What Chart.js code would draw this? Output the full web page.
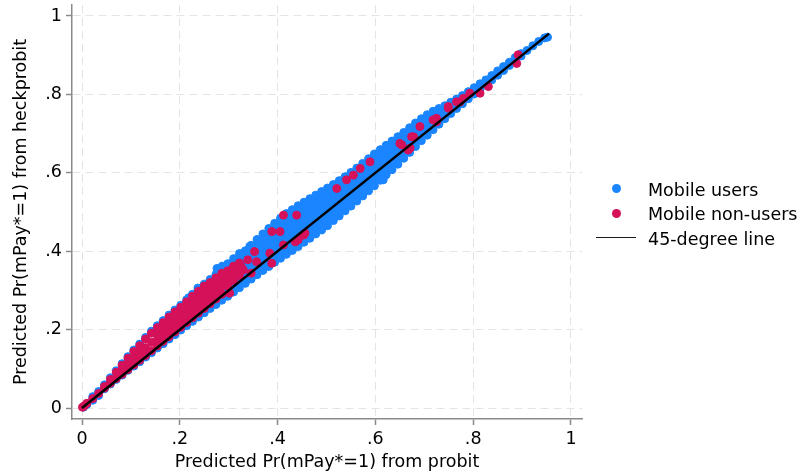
<!DOCTYPE html>
<html lang="en">
<head>
<meta charset="UTF-8">
<title>Predicted Pr(mPay*=1): probit vs heckprobit</title>
<script src="https://cdn.jsdelivr.net/npm/chart.js"></script>
<style>
  body { margin: 0; background: #fff; }
  #wrap { position: relative; width: 799px; height: 473px; font-family: 'DejaVu Sans', sans-serif; }
  .dot { position: absolute; left: 612px; width: 9px; height: 9px; border-radius: 50%; }
  .seg { position: absolute; left: 596px; width: 40px; height: 1.5px; background: #1a1a1a; }
  .lbl { position: absolute; left: 648px; font-size: 17.5px; line-height: 24px; color: #000; white-space: nowrap; }
</style>
</head>
<body>

<div id="wrap">
  <canvas id="grafico" width="799" height="473"></canvas>

  <!-- legenda -->
  <div class="dot" style="top:184px; background:#1a85ff"></div>
  <div class="lbl" style="top:177.7px">Mobile users</div>
  <div class="dot" style="top:208.5px; background:#d41159"></div>
  <div class="lbl" style="top:202.1px">Mobile non-users</div>
  <div class="seg" style="top:236.5px"></div>
  <div class="lbl" style="top:226.6px">45-degree line</div>
</div>

<script>
// probit prediction (x) -> heckprobit predictions (y)
const usersCols = [
  [.003, [.002]],
  [.010, [.009]], [.022, [.020, .029]], [.034, [.032, .042]], [.046, [.049, .059]],
  [.058, [.061, .077]], [.070, [.073, .095]], [.082, [.084, .113]], [.094, [.096, .131]],
  [.106, [.107, .148]], [.118, [.118, .163]], [.130, [.130, .180]], [.142, [.141, .196]],
  [.154, [.153, .210]], [.166, [.164, .223]], [.178, [.176, .237]], [.190, [.187, .250]],
  [.202, [.199, .262]], [.214, [.210, .276]], [.226, [.221, .290]], [.238, [.232, .303]],
  [.250, [.243, .316]], [.262, [.254, .328]], [.274, [.264, .341]], [.286, [.275, .355]],
  [.298, [.285, .300, .368]], [.310, [.296, .312, .381]], [.322, [.307, .323, .380, .394]],
  [.334, [.318, .335, .351, .368, .384, .401]],
  [.346, [.329, .346, .363, .380, .398, .415]],
  [.358, [.340, .358, .376, .394, .412, .430]],
  [.370, [.351, .369, .388, .407, .425, .444]],
  [.382, [.361, .377, .393, .410, .426, .442, .458]],
  [.394, [.372, .388, .405, .421, .438, .454, .471]],
  [.406, [.382, .399, .416, .433, .450, .467, .484]],
  [.418, [.392, .409, .427, .444, .461, .479, .496]],
  [.430, [.402, .419, .437, .454, .471, .489, .506]],
  [.442, [.412, .429, .447, .464, .481, .499, .516]],
  [.454, [.423, .440, .457, .474, .491, .508, .525]],
  [.466, [.433, .450, .467, .484, .500, .517, .534]],
  [.478, [.444, .460, .477, .493, .510, .526, .543]],
  [.490, [.454, .470, .487, .503, .519, .536, .552]],
  [.502, [.465, .481, .497, .513, .529, .545, .561]],
  [.514, [.478, .493, .509, .524, .539, .555, .570]],
  [.526, [.490, .505, .520, .535, .550, .565, .580]],
  [.538, [.503, .520, .538, .555, .573, .590]],
  [.550, [.515, .532, .549, .567, .584, .601]],
  [.562, [.528, .545, .562, .578, .595, .612]],
  [.574, [.541, .558, .574, .591, .607, .624]],
  [.586, [.554, .570, .587, .603, .620, .636]],
  [.598, [.567, .583, .599, .616, .632, .648]],
  [.610, [.581, .597, .612, .628, .643, .659]],
  [.622, [.595, .610, .625, .640, .655, .670]],
  [.634, [.608, .626, .645, .663, .681]],
  [.646, [.622, .640, .657, .675, .692]],
  [.658, [.637, .654, .670, .687, .703]],
  [.670, [.652, .668, .684, .699, .715]],
  [.682, [.667, .682, .697, .712, .727]],
  [.694, [.682, .701, .719, .738]],
  [.706, [.696, .713, .731, .748]],
  [.718, [.710, .726, .741, .757]],
  [.730, [.724, .737, .751, .764]],
  [.742, [.738, .755, .771]], [.754, [.751, .766, .780]],
  [.766, [.764, .776, .788]], [.778, [.776, .787, .797]],
  [.790, [.789, .807]], [.802, [.801, .817]], [.814, [.813, .827]], [.826, [.825, .837]],
  [.838, [.837, .848]], [.850, [.849, .860]], [.862, [.861, .871]], [.874, [.874, .882]],
  [.886, [.886, .894]], [.898, [.898, .904]], [.910, [.912]], [.922, [.924]],
  [.934, [.935]], [.946, [.944]], [.952, [.946]]
];
const usersExtra = [
  [.218, .281], [.237, .306], [.276, .356], [.287, .362], [.312, .372], [.343, .412],
  [.575, .548], [.616, .582]
];

const nonUsersCols = [
  [.001, [.002]], [.005, [.006]],
  [.010, [.012]], [.022, [.024]], [.034, [.037]], [.046, [.051, .055]],
  [.058, [.063, .073]], [.070, [.075, .091]], [.082, [.086, .098, .109]],
  [.094, [.098, .113, .127]], [.106, [.110, .127, .144]], [.118, [.122, .140, .159]],
  [.130, [.134, .154, .176]], [.142, [.146, .168, .191]], [.154, [.158, .174, .189, .205]],
  [.166, [.170, .186, .202, .218]], [.178, [.182, .199, .215, .232]],
  [.190, [.194, .211, .228, .245]], [.202, [.206, .223, .240, .257]],
  [.214, [.218, .236, .253, .271]], [.226, [.230, .248, .266, .285]],
  [.238, [.242, .261, .280, .298]], [.250, [.254, .273, .292, .311]],
  [.262, [.266, .285, .304, .320]], [.274, [.278, .297, .316, .332]],
  [.286, [.290, .309, .328, .344]], [.298, [.312, .330, .350]],
  [.310, [.325, .344, .362]], [.322, [.338, .356, .370]]
];
const nonUsersExtra = [
  [.302, .293], [.326, .360], [.330, .352], [.339, .378], [.346, .344], [.353, .399],
  [.357, .373], [.384, .395], [.388, .369], [.388, .450], [.405, .450], [.412, .416],
  [.412, .492], [.436, .424], [.439, .492], [.442, .429], [.453, .441], [.456, .446],
  [.521, .560], [.541, .582], [.555, .594], [.569, .611], [.589, .628], [.650, .675],
  [.654, .671], [.667, .658], [.671, .663], [.674, .692], [.678, .692], [.691, .718],
  [.718, .735], [.725, .739], [.725, .730], [.749, .765], [.749, .769], [.766, .781],
  [.773, .781], [.780, .790], [.793, .803], [.814, .803], [.831, .820], [.889, .879],
  [.892, .901]
];

const lineEnds = [0, .955];
const tickVals = [0, .2, .4, .6, .8, 1];
const tickLabels = ['0', '.2', '.4', '.6', '.8', '1'];

const fonte = 'DejaVu Sans';
const corEixo = '#8a8a8a';

function colunasParaPontos(cols) {
  return cols.flatMap(([x, ys]) => ys.map(y => ({ x: x, y: y })));
}
function paresParaPontos(pares) {
  return pares.map(([x, y]) => ({ x: x, y: y }));
}

const pontosUsers = colunasParaPontos(usersCols).concat(paresParaPontos(usersExtra));
const pontosNonUsers = colunasParaPontos(nonUsersCols).concat(paresParaPontos(nonUsersExtra));

function eixo(min, max, titulo, tituloPad, fit) {
  return {
    type: 'linear',
    min: min,
    max: max,
    afterBuildTicks: s => { s.ticks = tickVals.map(v => ({ value: v })); },
    afterFit: fit,
    ticks: {
      callback: (v, i) => tickLabels[i],
      color: '#000',
      font: { family: fonte, size: 17.5 },
      padding: 4,
      autoSkip: false,
      maxRotation: 0
    },
    grid: {
      color: '#e4e4e4',
      lineWidth: 1,
      tickLength: 6,
      tickColor: corEixo,
      tickWidth: 1.5
    },
    border: { color: corEixo, width: 1.5, dash: [8, 5] },
    title: {
      display: true,
      text: titulo,
      color: '#000',
      font: { family: fonte, size: 17.5 },
      padding: tituloPad
    }
  };
}

new Chart(document.getElementById('grafico'), {
  type: 'scatter',
  data: {
    datasets: [
      {
        label: '45-degree line',
        data: lineEnds.map(v => ({ x: v, y: v })),
        showLine: true,
        borderColor: '#000',
        borderWidth: 2.5,
        pointRadius: 0,
        order: 0
      },
      {
        label: 'Mobile non-users',
        data: pontosNonUsers,
        backgroundColor: '#d41159',
        borderColor: '#d41159',
        borderWidth: 1,
        pointRadius: 4,
        order: 1
      },
      {
        label: 'Mobile users',
        data: pontosUsers,
        backgroundColor: '#1a85ff',
        borderColor: '#1a85ff',
        borderWidth: 1,
        pointRadius: 4,
        order: 2
      }
    ]
  },
  options: {
    responsive: false,
    animation: false,
    layout: { padding: { top: 5, right: 217, bottom: 0, left: 0 } },
    plugins: { legend: { display: false }, tooltip: { enabled: false } },
    scales: {
      x: eixo(-0.02045, 1.0225, 'Predicted Pr(mPay*=1) from probit', { top: 0, bottom: 0 },
        s => { s.height = 54; s.paddingLeft = 0; s.paddingRight = 0; }),
      y: eixo(-0.02806, 1.02806, 'Predicted Pr(mPay*=1) from heckprobit', { top: 10.5, bottom: 0 },
        s => { s.width = 72; s.paddingTop = 0; s.paddingBottom = 0; })
    }
  }
});
</script>

</body>
</html>
